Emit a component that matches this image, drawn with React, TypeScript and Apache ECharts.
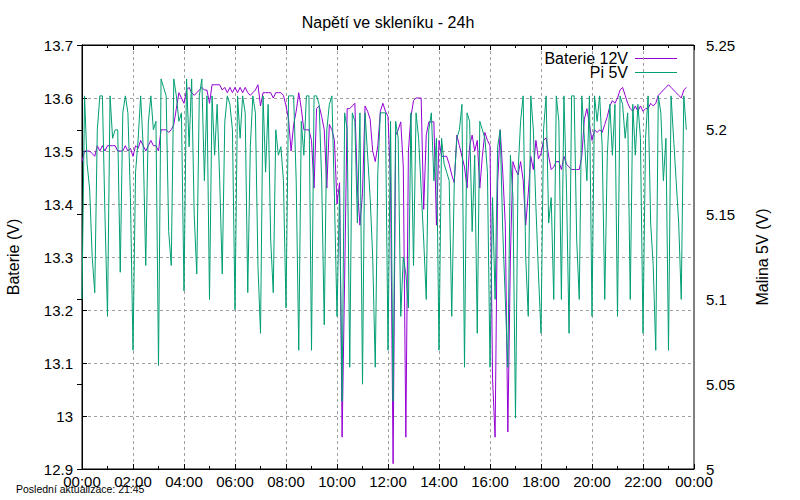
import React, { useEffect, useRef } from "react";
import * as echarts from "echarts";

// Hours between samples (one reading every 6 minutes, starting at 00:00)
const STEP_HOURS = 0.1;

const TITLE = "Napětí ve skleníku - 24h";
const LEFT_NAME = "Baterie (V)";
const RIGHT_NAME = "Malina 5V (V)";
const SERIES_NAMES = ["Baterie 12V", "Pi 5V"];
const FOOTER = "Poslední aktualizace: 21:45";

// Baterie 12V (left axis, V)
const batteryValues: number[] = [
  13.48, 13.5, 13.5, 13.5, 13.495, 13.49, 13.51, 13.5, 13.51, 13.5, 13.51, 13.51, 13.51, 13.51, 13.5, 13.5, 13.5, 13.51, 13.5, 13.505,
  13.49, 13.51, 13.505, 13.52, 13.51, 13.5, 13.51, 13.52, 13.51, 13.51, 13.5, 13.54, 13.54, 13.54, 13.535, 13.54, 13.55, 13.58, 13.61, 13.6,
  13.59,
  13.615, 13.62, 13.61, 13.605, 13.61, 13.615, 13.62, 13.615, 13.615, 13.59, 13.625, 13.625, 13.625, 13.625, 13.615, 13.62, 13.61, 13.62, 13.61, 13.62,
  13.61, 13.62, 13.61, 13.62, 13.61, 13.605, 13.61, 13.615, 13.625, 13.585, 13.61, 13.61, 13.61, 13.61, 13.6, 13.61, 13.61, 13.61, 13.605, 13.585,
  13.56,
  13.5, 13.55, 13.575, 13.61, 13.58, 13.54, 13.54, 13.54, 13.52, 13.43, 13.58, 13.585, 13.565, 13.54, 13.43, 13.55, 13.54, 13.52, 13.4, 13.44,
  12.96, 13.26, 13.58, 13.58, 13.585, 13.59, 13.43, 13.36, 13.42, 13.585, 13.575, 13.56, 13.5, 13.48, 13.51, 13.575, 13.59, 13.575, 13.565, 13.44,
  12.91,
  13.53, 13.54, 13.555, 13.47, 12.96, 13.5, 13.565, 13.595, 13.6, 13.6, 13.6, 13.39, 13.53, 13.555, 13.555, 13.555, 13.36, 13.52, 13.49, 13.49,
  13.49, 13.475, 13.455, 13.44, 13.53, 13.51, 13.49, 13.47, 13.43, 13.51, 13.53, 13.5, 13.52, 13.43, 13.49, 13.535, 13.52, 13.51, 13.07, 12.96,
  13.44,
  13.54, 13.46, 13.36, 12.97, 13.3, 13.48, 13.465, 13.455, 13.48, 13.445, 13.36, 13.42, 13.49, 13.465, 13.52, 13.485, 13.495, 13.52, 13.525, 13.49,
  13.465, 13.47, 13.48, 13.48, 13.465, 13.49, 13.475, 13.47, 13.465, 13.465, 13.465, 13.465, 13.49, 13.56, 13.58, 13.55, 13.52, 13.54, 13.535, 13.54,
  13.535,
  13.55, 13.565, 13.585, 13.595, 13.59, 13.6, 13.615, 13.62, 13.605, 13.59, 13.58, 13.575, 13.585, 13.575, 13.585, 13.575, 13.58, 13.58, 13.59, 13.585,
  13.59, 13.605, 13.61, 13.615, 13.62, 13.625, 13.62, 13.615, 13.61, 13.605, 13.6, 13.615, 13.62,
];

// Pi 5V (right axis, V)
const piValues: number[] = [
  5.1, 5.22, 5.18, 5.165, 5.125, 5.104, 5.2, 5.22, 5.22, 5.15, 5.09, 5.22, 5.195, 5.2, 5.2, 5.116, 5.21, 5.22, 5.21, 5.16,
  5.07, 5.175, 5.194, 5.22, 5.19, 5.12, 5.204, 5.22, 5.2, 5.205, 5.061, 5.23, 5.225, 5.22, 5.14, 5.12, 5.23, 5.22, 5.205, 5.21,
  5.105,
  5.23, 5.19, 5.23, 5.15, 5.115, 5.22, 5.23, 5.17, 5.22, 5.1, 5.22, 5.185, 5.215, 5.17, 5.115, 5.205, 5.22, 5.215, 5.2, 5.094,
  5.22, 5.195, 5.22, 5.21, 5.104, 5.19, 5.22, 5.21, 5.12, 5.08, 5.22, 5.175, 5.215, 5.135, 5.104, 5.2, 5.185, 5.19, 5.17, 5.095,
  5.22,
  5.22, 5.22, 5.17, 5.07, 5.205, 5.185, 5.22, 5.22, 5.07, 5.22, 5.22, 5.215, 5.17, 5.085, 5.2, 5.215, 5.22, 5.16, 5.09, 5.165,
  5.04, 5.21, 5.2, 5.06, 5.21, 5.205, 5.145, 5.21, 5.05, 5.21, 5.185, 5.16, 5.125, 5.06, 5.175, 5.21, 5.21, 5.21, 5.07, 5.205,
  5.04,
  5.205, 5.195, 5.09, 5.125, 5.115, 5.095, 5.21, 5.12, 5.21, 5.195, 5.165, 5.135, 5.1, 5.2, 5.21, 5.17, 5.195, 5.07, 5.195, 5.18,
  5.175, 5.17, 5.09, 5.17, 5.195, 5.2, 5.215, 5.06, 5.21, 5.205, 5.14, 5.185, 5.08, 5.205, 5.2, 5.195, 5.175, 5.06, 5.16, 5.1,
  5.19,
  5.2, 5.14, 5.1, 5.06, 5.185, 5.16, 5.03, 5.175, 5.205, 5.22, 5.125, 5.09, 5.22, 5.2, 5.155, 5.115, 5.08, 5.2, 5.22, 5.145,
  5.16, 5.1, 5.22, 5.205, 5.1, 5.22, 5.165, 5.08, 5.22, 5.22, 5.135, 5.1, 5.22, 5.195, 5.17, 5.22, 5.09, 5.22, 5.205, 5.22,
  5.19,
  5.1, 5.185, 5.215, 5.185, 5.215, 5.09, 5.22, 5.215, 5.195, 5.21, 5.1, 5.215, 5.185, 5.215, 5.195, 5.08, 5.195, 5.22, 5.145, 5.12,
  5.07, 5.22, 5.21, 5.17, 5.195, 5.07, 5.22, 5.195, 5.17, 5.145, 5.1, 5.22, 5.2,
];

const COLORS = ["#9400d3", "#009e73"];
const FONT = "'Liberation Sans', Arial, sans-serif";

function hourLabel(v: number): string {
  const h = Math.round(v) % 24;
  return (h < 10 ? "0" : "") + h + ":00";
}

export default function App() {
  const ref = useRef<HTMLDivElement>(null);

  useEffect(() => {
    if (!ref.current) return;
    const chart = echarts.init(ref.current, undefined, { renderer: "svg" });

    const toPairs = (vals: number[]) => vals.map((v, i) => [i * STEP_HOURS, v]);

    const xCommon = {
      type: "value",
      min: 0,
      max: 24,
      interval: 2,
      axisLine: { show: true, lineStyle: { color: "#000", width: 1 } },
      axisTick: { show: true, inside: true, length: 5, lineStyle: { color: "#000" } },
      minorTick: { show: true, splitNumber: 2, length: 3, lineStyle: { color: "#000" } },
    };

    const option: any = {
      animation: false,
      grid: {
        left: 82,
        right: 106,
        top: 45,
        bottom: 31,
        show: true,
        borderColor: "#000",
        borderWidth: 1,
        containLabel: false,
        outerBoundsMode: "none",
      },
      xAxis: [
        {
          ...xCommon,
          position: "bottom",
          axisLabel: {
            formatter: hourLabel,
            color: "#000",
            fontSize: 15,
            fontFamily: FONT,
            margin: 5,
            showMinLabel: true,
            showMaxLabel: true,
          },
          splitLine: {
            show: true,
            showMinLine: false,
            showMaxLine: false,
            lineStyle: { color: "#a0a0a0", width: 1, type: [3, 3] },
          },
        },
        {
          ...xCommon,
          position: "top",
          axisLabel: { show: false },
          splitLine: { show: false },
        },
      ],
      yAxis: [
        {
          type: "value",
          position: "left",
          min: 12.9,
          max: 13.7,
          interval: 0.1,
          axisLine: { show: true, lineStyle: { color: "#000" } },
          axisTick: { show: true, inside: true, length: 5, lineStyle: { color: "#000" } },
          axisLabel: {
            formatter: (v: number) => String(Math.round(v * 10) / 10),
            color: "#000",
            fontSize: 15,
            fontFamily: FONT,
            margin: 9,
          },
          splitLine: {
            show: true,
            showMinLine: false,
            showMaxLine: false,
            lineStyle: { color: "#a0a0a0", width: 1, type: [3, 3] },
          },
        },
        {
          type: "value",
          position: "right",
          min: 5,
          max: 5.25,
          interval: 0.05,
          axisLine: { show: true, lineStyle: { color: "#000" } },
          axisTick: { show: true, inside: true, length: 5, lineStyle: { color: "#000" } },
          axisLabel: {
            formatter: (v: number) => String(Math.round(v * 100) / 100),
            color: "#000",
            fontSize: 15,
            fontFamily: FONT,
            margin: 12,
          },
          splitLine: { show: false },
        },
      ],
      series: [
        {
          name: SERIES_NAMES[0],
          type: "line",
          xAxisIndex: 0,
          yAxisIndex: 0,
          data: toPairs(batteryValues),
          showSymbol: false,
          symbol: "none",
          lineStyle: { color: COLORS[0], width: 1 },
          itemStyle: { color: COLORS[0] },
        },
        {
          name: SERIES_NAMES[1],
          type: "line",
          xAxisIndex: 0,
          yAxisIndex: 1,
          data: toPairs(piValues),
          showSymbol: false,
          symbol: "none",
          lineStyle: { color: COLORS[1], width: 1 },
          itemStyle: { color: COLORS[1] },
        },
      ],
      graphic: {
        elements: [
          {
            type: "text",
            x: 388,
            y: 22,
            style: { text: TITLE, fill: "#000", fontSize: 16, fontFamily: FONT, align: "center", verticalAlign: "middle" },
          },
          {
            type: "text",
            x: 13,
            y: 257,
            rotation: Math.PI / 2,
            style: { text: LEFT_NAME, fill: "#000", fontSize: 16, fontFamily: FONT, align: "center", verticalAlign: "middle" },
          },
          {
            type: "text",
            x: 762,
            y: 257,
            rotation: Math.PI / 2,
            style: { text: RIGHT_NAME, fill: "#000", fontSize: 16, fontFamily: FONT, align: "center", verticalAlign: "middle" },
          },
          {
            type: "text",
            x: 628,
            y: 58,
            style: { text: SERIES_NAMES[0], fill: "#000", fontSize: 16, fontFamily: FONT, align: "right", verticalAlign: "middle" },
          },
          {
            type: "line",
            shape: { x1: 635, y1: 58.5, x2: 677, y2: 58.5 },
            style: { stroke: COLORS[0], lineWidth: 1 },
          },
          {
            type: "text",
            x: 628,
            y: 72,
            style: { text: SERIES_NAMES[1], fill: "#000", fontSize: 16, fontFamily: FONT, align: "right", verticalAlign: "middle" },
          },
          {
            type: "line",
            shape: { x1: 635, y1: 72.5, x2: 677, y2: 72.5 },
            style: { stroke: COLORS[1], lineWidth: 1 },
          },
          {
            type: "text",
            x: 16,
            y: 489,
            style: { text: FOOTER, fill: "#000", fontSize: 10.5, fontFamily: FONT, align: "left", verticalAlign: "middle" },
          },
        ],
      },
    };

    chart.setOption(option);
    return () => chart.dispose();
  }, []);

  return (
    <div
      ref={ref}
      style={{ position: "fixed", left: 0, top: 0, width: 800, height: 500, background: "#fff" }}
    />
  );
}
